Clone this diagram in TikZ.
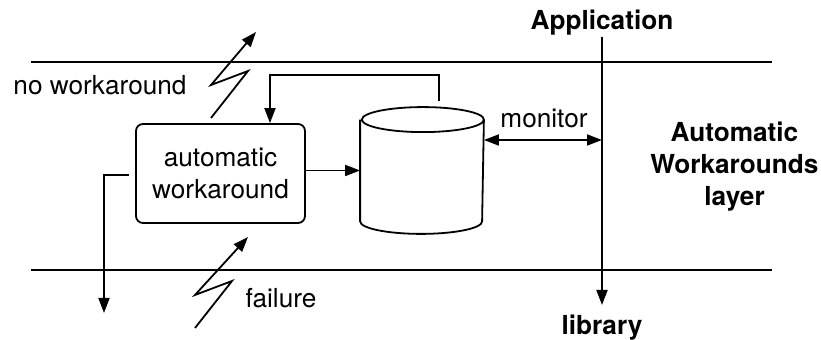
\documentclass[tikz,border=0pt]{standalone}
\usepackage{fontspec}
\setmainfont{TeX Gyre Heros}
\usetikzlibrary{arrows.meta}
\tikzset{
  tip/.style={-{Triangle[length=7.5pt,width=5.5pt]}},
  twotip/.style={{Triangle[length=7.5pt,width=5.5pt]}-{Triangle[length=7.5pt,width=5.5pt]}},
  txt/.style={font=\fontsize{13.1}{16}\selectfont, inner sep=0pt},
  boldtxt/.style={font=\fontsize{13.1}{16}\selectfont\bfseries, inner sep=0pt},
  wabox/.style={draw, rounded corners=3.5pt, minimum width=84.5pt, minimum height=49.5pt, inner sep=0pt, align=center, txt},
  store/.style={minimum width=61pt, minimum height=62.5pt, inner sep=0pt},
}
\begin{document}
\begin{tikzpicture}[line cap=butt,line join=miter,x=0.5pt,y=-0.5pt,line width=0.9pt]
\useasboundingbox (0,0) rectangle (821,340);
% layer borders
\draw (31,62)-- (772,62);
\draw (31,270)-- (772,270);
% nodes
\node[wabox] (box) at (220.5,173.5) {automatic\\workaround};
\node[store] (cyl) at (422,170.5) {};
\draw ([yshift=-6.25pt]cyl.north west)-- ([yshift=6.25pt]cyl.south west)
  arc[start angle=180,end angle=360,x radius=30.5pt,y radius=6.25pt]
  -- ([yshift=-6.25pt]cyl.north east)
  arc[start angle=0,end angle=360,x radius=30.5pt,y radius=6.25pt];
\node[boldtxt, anchor=base] (app) at (602,30) {Application};
\node[boldtxt, anchor=base] (lib) at (602,335) {library};
\node[boldtxt, align=center] (layer) at (734.5,167) {Automatic\\Workarounds\\layer};
\node[txt, anchor=base] (nowa) at (100,95) {no workaround};
\node[txt, anchor=base] (fail) at (281,308) {failure};
\node[txt, anchor=base] (mon) at (544,128) {monitor};
% connectors
\coordinate (append) at (602,37);
\coordinate (libend) at (602,305);
\draw[tip] (append)-- (libend);
\coordinate (montap) at (602,140);
\draw[twotip] (cyl.east |- montap)-- (montap);
\draw[tip] (box.east |- cyl.west)-- (cyl.west);
\coordinate (fb) at (439,101);
\coordinate (fbtop) at (270,75);
\draw[tip] (fb) |- (fbtop) -- (fbtop |- box.north);
\coordinate (out) at (129,175);
\coordinate (outend) at (104,313);
\draw[tip] (out) -| (outend);
% lightning arrows
\draw[tip] (211,118)-- (248,71)-- (211,85)-- (256,32);
\draw[tip] (195,328)-- (232,281)-- (195,295)-- (248,237);
\end{tikzpicture}
\end{document}
